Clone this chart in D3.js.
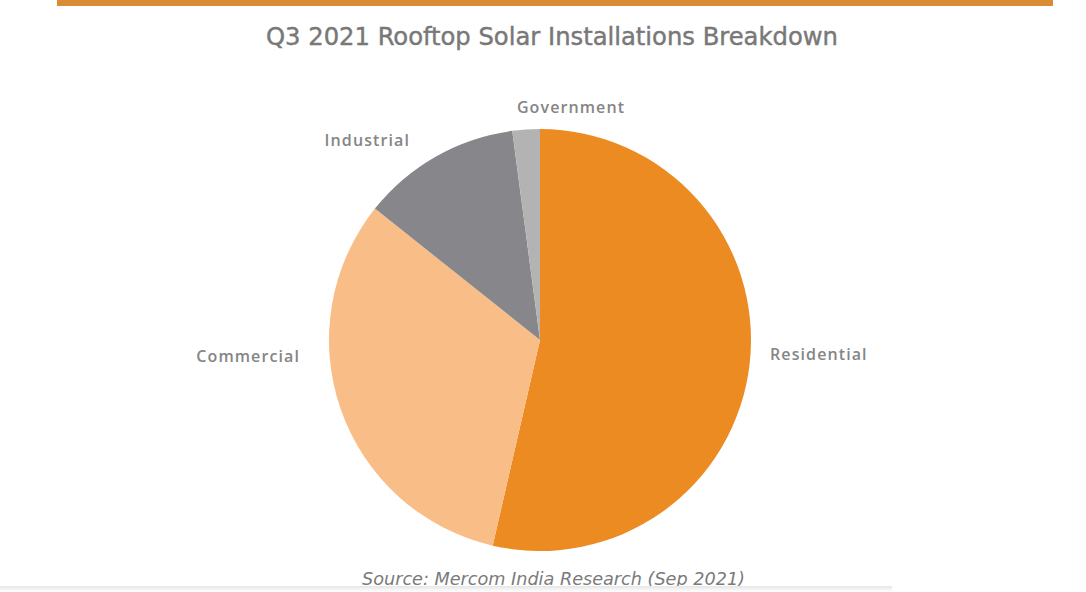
<!DOCTYPE html>
<html>
<head>
<meta charset="utf-8">
<script src="https://cdn.jsdelivr.net/npm/d3@7"></script>
<style>
  body { margin: 0; background: #fff; }
  svg { display: block; }
</style>
</head>
<body>
<div id="chart"></div>
<script>
'use strict'

var width = 1086;
var height = 592;

// slice data, clockwise from 12 o'clock
var segments = ['Residential', 'Commercial', 'Industrial', 'Government'];
var shares = [53.6, 32.1, 12.2, 2.1];
var colors = ['#ec8b22', '#f9bd88', '#87878b', '#b3b3b3'];

var title = 'Q3 2021 Rooftop Solar Installations  Breakdown';
var source = 'Source: Mercom India Research (Sep 2021)';

var cx = 540, cy = 340, radius = 211;

// label offsets from pie centre (Excel style outside labels)
var labelPos = [[230, 16, 'start'], [-240, 18, 'end'], [-130, -198, 'end'], [31, -231, 'middle']];

var svg = d3.select('#chart').append('svg')
  .attr('width', width)
  .attr('height', height);

// top accent bar
svg.append('rect')
  .attr('x', 57).attr('y', 0)
  .attr('width', 996).attr('height', 6)
  .attr('fill', '#da8b35');

svg.append('text')
  .attr('x', 266).attr('y', 38)
  .attr('dominant-baseline', 'middle')
  .attr('font-family', 'DejaVu Sans Condensed, DejaVu Sans')
  .attr('font-size', 25)
  .attr('textLength', 572)
  .attr('lengthAdjust', 'spacingAndGlyphs')
  .attr('fill', '#787878')
  .attr('stroke', '#787878')
  .attr('stroke-width', 0.4)
  .text(title);

var pie = d3.pie().sort(null).value(function(d){ return d; });
var arc = d3.arc().innerRadius(0).outerRadius(radius);

var g = svg.append('g')
  .attr('transform', 'translate(' + cx + ',' + cy + ')');

g.selectAll('path')
  .data(pie(shares))
  .enter().append('path')
    .attr('d', arc)
    .attr('fill', function(d, i){ return colors[i]; });

g.selectAll('text.lbl')
  .data(segments)
  .enter().append('text')
    .attr('class', 'lbl')
    .attr('x', function(d, i){ return labelPos[i][0]; })
    .attr('y', function(d, i){ return labelPos[i][1]; })
    .attr('text-anchor', function(d, i){ return labelPos[i][2]; })
    .attr('dominant-baseline', 'middle')
    .attr('font-family', 'Open Sans, DejaVu Sans')
    .attr('font-weight', 600)
    .attr('font-size', 16)
    .attr('letter-spacing', 1.1)
    .attr('fill', '#858585')
    .text(function(d){ return d; });

// source line, clipped by the bottom band
svg.append('text')
  .attr('x', 362).attr('y', 580)
  .attr('dominant-baseline', 'middle')
  .attr('font-family', 'DejaVu Sans Condensed, DejaVu Sans')
  .attr('font-style', 'italic')
  .attr('font-size', 18)
  .attr('textLength', 383)
  .attr('lengthAdjust', 'spacingAndGlyphs')
  .attr('fill', '#7a7a7a')
  .text(source);

var fade = svg.append('defs').append('linearGradient')
  .attr('id', 'fade').attr('x1', 0).attr('y1', 0).attr('x2', 0).attr('y2', 1);
fade.append('stop').attr('offset', '0%').attr('stop-color', '#e6e6e6');
fade.append('stop').attr('offset', '100%').attr('stop-color', '#ffffff');

svg.append('rect')
  .attr('x', 0).attr('y', 586)
  .attr('width', 892).attr('height', 6)
  .attr('fill', 'url(#fade)');
</script>
</body>
</html>
